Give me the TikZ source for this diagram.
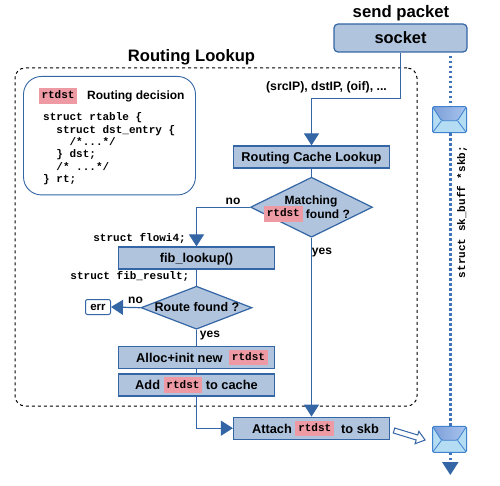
\documentclass[tikz,border=0pt]{standalone}
\usepackage{fontspec}
\setmainfont{Liberation Sans}
\setmonofont{Liberation Mono}
\usetikzlibrary{arrows.meta}
\usetikzlibrary{calc}
\usetikzlibrary{positioning}
\usetikzlibrary{shapes.geometric}
\definecolor{boxfill}{HTML}{B0C4DE}
\definecolor{boxline}{HTML}{3465A4}
\definecolor{tagpink}{HTML}{EE9AA4}
\definecolor{mailline}{HTML}{3F83D0}
\definecolor{maildark}{HTML}{7C9FD8}
\definecolor{mailmid}{HTML}{A9C4EE}
\definecolor{maillight}{HTML}{B4DCF2}
\definecolor{pktblue}{HTML}{3F72B8}
\newcommand{\fsz}[1]{\fontsize{#1}{#1}\selectfont\bfseries}
\newcommand{\rtdst}{\smash{\raisebox{1.5pt}{\setlength{\fboxsep}{2.8pt}\colorbox{tagpink}{\rule[-2pt]{0pt}{9.5pt}\ttfamily\fsz{11}rtdst}}}}
\tikzset{
  stepbox/.style={draw=boxline, fill=boxfill, line width=1.2pt, minimum width=156pt, minimum height=22pt, inner sep=0pt, text height=9.6pt, text depth=0pt, font=\fsz{12.8}},
  decide/.style={diamond, draw=boxline, fill=boxfill, line width=1.2pt, inner sep=0pt, shape aspect=2},
  caption/.style={inner sep=0pt, font=\fsz{12}},
  code/.style={inner sep=0pt, font=\ttfamily\fsz{11}},
  flow/.style={draw=boxline, line width=1.2pt},
  pktline/.style={pktblue, line width=2.5pt, dash pattern=on 2.6pt off 2.4pt},
  mail/.style={draw=mailline, line width=1pt, rounded corners=1.5pt, minimum width=34pt, minimum height=26pt, inner sep=0pt, fill=maillight,
    path picture={
      \fill[left color=maildark, right color=mailmid]
        (path picture bounding box.north west) -- (path picture bounding box.north east)
        -- ([xshift=-9pt,yshift=-14pt]path picture bounding box.north east)
        -- ([xshift=9pt,yshift=-14pt]path picture bounding box.north west) -- cycle;
      \draw[mailline, line width=.8pt]
        (path picture bounding box.north west) -- ([xshift=9pt,yshift=-14pt]path picture bounding box.north west)
        -- ([xshift=-9pt,yshift=-14pt]path picture bounding box.north east) -- (path picture bounding box.north east);
      \draw[mailline, line width=.8pt]
        (path picture bounding box.south west) -- ([xshift=9pt,yshift=-14pt]path picture bounding box.north west);
      \draw[mailline, line width=.8pt]
        (path picture bounding box.south east) -- ([xshift=-9pt,yshift=-14pt]path picture bounding box.north east);
    }},
}
\begin{document}
\begin{tikzpicture}[x=1pt, y=-1pt, >={Triangle[width=15pt,length=12pt]}]
  \useasboundingbox (0,0) rectangle (500,486);
  % lookup frame
  \node[draw, dashed, line width=1pt, rounded corners=10pt, minimum width=402pt, minimum height=338pt] (frame) at (216,237) {};
  \node[inner sep=0pt, font=\fsz{16.6}] (title) at (191.5,57) {Routing Lookup};
  \node[draw=boxline, line width=.9pt, rounded corners=18pt, minimum width=172pt, minimum height=118.5pt] (info) at (109.5,135.7) {};
  \node[inner sep=0pt, anchor=base west] (tag) at (38.5,100.5) {\rtdst};
  \node[caption, anchor=west] (decision) at (87,96) {Routing decision};
  \node[code, anchor=north west, align=left] (rtable) at (43,112.5) {struct rtable \{\\[1.4pt]
    \ \ struct dst\_entry \{\\[1.4pt]
    \ \ \ \ /*...*/\\[1.4pt]
    \ \ \} dst;\\[1.4pt]
    \ \ /* ...*/\\[1.4pt]
    \} rt;};

  % send path
  \node[inner sep=0pt, font=\fsz{16.7}] (send) at (401,13) {send packet};
  \node[stepbox, rounded corners=4pt, minimum width=133pt, minimum height=28pt, text height=12pt, font=\fsz{16.4}] (socket) at (400.5,38) {socket};
  \node[stepbox] (cache) at (311.5,157) {Routing Cache Lookup};
  \node[decide, minimum width=122pt, minimum height=60pt, below=8pt of cache] (match) {};
  \node[caption, align=center] (matchtext) at (311,207) {Matching\\[2.2pt]\rtdst\ found ?\hspace*{8pt}};
  \node[stepbox] (fib) at (196.5,258) {fib\_lookup()};
  \node[decide, minimum width=111pt, minimum height=43pt, shape aspect=2.58, below=16pt of fib] (route) {};
  \node[caption, font=\fsz{12.5}] (routetext) at (197,307) {Route found ?};
  \node[draw=boxline, line width=1pt, rounded corners=2pt, fill=white, minimum width=25pt, minimum height=15pt, inner sep=0pt, font=\fsz{11.5}] (err) at (98,307) {err};
  \node[stepbox] (alloc) at (196.5,357.2) {\hspace*{11pt}Alloc+init new\hspace{3pt} \rtdst};
  \node[stepbox, below=4.5pt of alloc] (add) {Add \rtdst\ to cache};
  \node[stepbox] (attach) at (311.5,428.2) {\hspace*{8pt}Attach \rtdst\ \ to skb};

  % packet path
  \node[mail] (mailtop) at (449.5,119.7) {};
  \node[mail] (mailend) at (449.5,439.3) {};
  \coordinate (pktend) at (450.3,475);
  \draw[pktline] (socket.south -| pktend) ++(0,3) -- (pktend |- mailtop.north);
  \draw[pktline] (pktend |- mailtop.south) -- (pktend |- mailend.north);
  \draw[pktline, -{Triangle[width=16pt,length=13pt,color=boxline]}] (pktend |- mailend.south) -- (pktend);
  \node[code, rotate=90] (skb) at (462,212) {struct sk\_buff *skb;};
  \draw[flow, line width=1pt, fill=white, shift={(394,430.5)}, rotate=-17]
    (0,-2.6) -- (24,-2.6) -- (24,-6.5) -- (32.5,0) -- (24,6.5) -- (24,2.6) -- (0,2.6) -- cycle;

  % connectors
  \draw[flow, ->] (socket.south) |- ($(cache.north)+(0,-47)$) -- (cache.north);
  \draw[flow] (cache) -- (match);
  \draw[flow, ->] (match.west) -| (fib.north);
  \draw[flow] (fib) -- (route);
  \draw[flow, ->] (route.west) -- (err.east);
  \draw[flow] (route) -- (alloc);
  \draw[flow] (alloc) -- (add);
  \draw[flow, ->] (add.south) |- (attach.west);
  \draw[flow, ->] (match.south) -- (attach.north);

  % labels
  \node[caption, font=\fsz{12.3}] (params) at (326.5,87) {(srcIP), dstIP, (oif), ...};
  \node[caption] (matchno) at (233,201) {no};
  \node[caption] (matchyes) at (322,252.5) {yes};
  \node[code, anchor=east] (flowi) at (186,238) {struct flowi4;};
  \node[code, anchor=east] (result) at (189.5,276.5) {struct fib\_result;};
  \node[caption] (routeno) at (135.5,300) {no};
  \node[caption] (routeyes) at (210,335.5) {yes};
\end{tikzpicture}
\end{document}
